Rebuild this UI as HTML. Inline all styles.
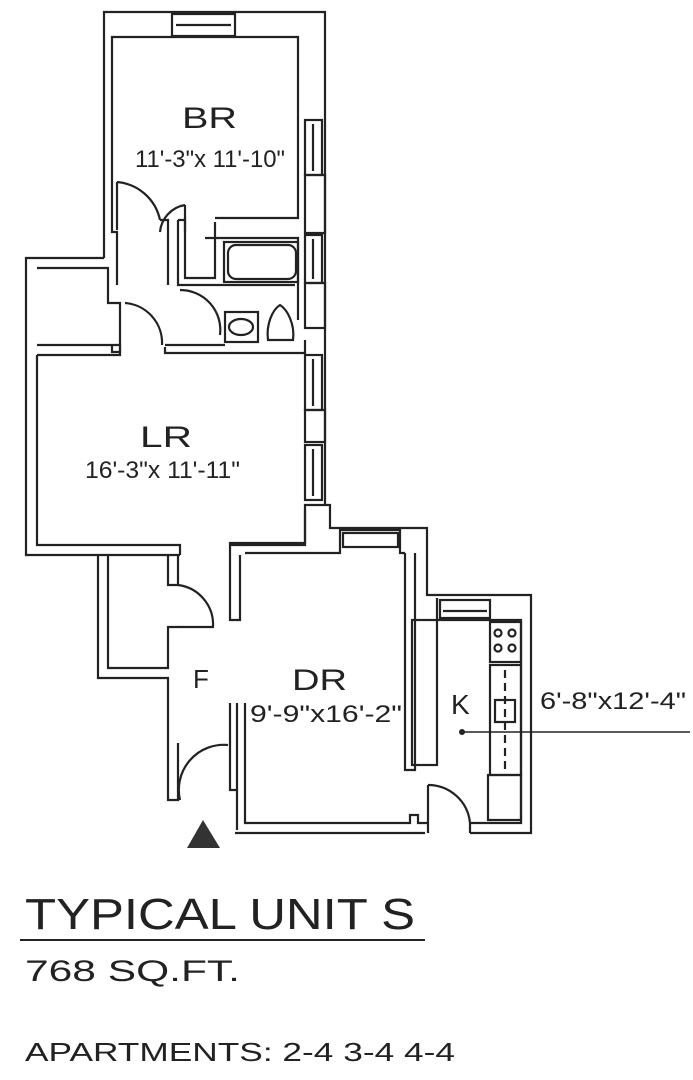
<!DOCTYPE html>
<html><head><meta charset="utf-8"><style>
html,body{margin:0;padding:0;background:#fff;}
svg{display:block}
text{font-family:"Liberation Sans",sans-serif;fill:#222;}
</style></head><body>
<svg width="693" height="1080" viewBox="0 0 693 1080" xmlns="http://www.w3.org/2000/svg">
<g fill="none" stroke="#222" stroke-width="2.2">
<path d="M104,258 V12 H325 V505"/>
<path d="M104,258 H26 V555 H180"/>
<path d="M230,555 V543 H305 V505 H330 V528 H427 V595 H531 V833 H470"/>
<path d="M112,222 V37 H298 V218 H215"/>
<rect x="172" y="14" width="63" height="22"/>
<line x1="176" y1="25" x2="231" y2="25"/>
<rect x="305" y="120" width="17" height="55"/><line x1="313" y1="124" x2="313" y2="171"/>
<rect x="305" y="175" width="20" height="58"/>
<rect x="305" y="235" width="17" height="48"/><line x1="313" y1="239" x2="313" y2="279"/>
<rect x="305" y="283" width="20" height="45"/>
<rect x="305" y="355" width="17" height="55"/><line x1="313" y1="359" x2="313" y2="406"/>
<rect x="305" y="410" width="20" height="32"/>
<rect x="305" y="445" width="17" height="55"/><line x1="313" y1="449" x2="313" y2="496"/>
<path d="M112,222 V232 H117 V285"/>
<path d="M160,220 H168 V285"/>
<path d="M178,220 H185 V245 V278 H215 V222"/>
<path d="M178,220 V285 H295"/>
<path d="M205,238 H298 V320"/>
<rect x="224" y="242" width="74" height="40"/>
<rect x="228" y="245" width="68" height="34" rx="8"/>
<rect x="225" y="312" width="33" height="30"/>
<ellipse cx="241" cy="327" rx="12" ry="8"/>
<path d="M268,340 C266,325 272,310 280,305 C288,310 295,325 293,340 Z"/>
<path d="M117,182 A48,48 0 0 1 160,220"/>
<line x1="117" y1="182" x2="117" y2="230"/>
<path d="M185,205 A30,30 0 0 0 160,232"/>
<path d="M185,205 V232"/>
<path d="M125,303 A40,40 0 0 1 162,345"/>
<path d="M180,290 A40,40 0 0 1 220,335"/>
<path d="M37,268 H108 V303 H120 V345 H37"/>
<path d="M120,345 V352 H112 V345"/>
<path d="M37,355 H120 V347"/>
<path d="M165,347 V353 H305 V340"/>
<path d="M165,345 H225"/>
<path d="M37,355 V545 H180 V555"/>
<path d="M305,510 V545 H230"/>
<path d="M98,555 V678 H168 V800 H178 V743"/>
<path d="M108,555 V668 H168 V627 H178 V628"/>
<path d="M168,555 V585 H178 V555"/>
<path d="M178,585 A40,40 0 0 1 213,627 H178"/>
<path d="M180,800 A45,45 0 0 1 228,745"/>
<path d="M230,555 V620 H240 V555"/>
<path d="M245,553 H340 V530 H400 V553 H405"/>
<rect x="343" y="533" width="55" height="14"/>
<path d="M405,553 V770 H415 V553"/>
<path d="M237,703 V830 M245,703 V823 H410 V815 H418 V823 H428"/>
<path d="M230,703 V790 H237"/>
<path d="M235,833 H425"/>
<path d="M437,598 V620 H521 V823 H470"/>
<rect x="440" y="600" width="50" height="18"/>
<line x1="443" y1="611" x2="487" y2="611"/>
<rect x="412" y="620" width="25" height="145"/>
<rect x="490" y="622" width="31" height="40"/>
<circle cx="498" cy="633" r="3.5"/><circle cx="512" cy="633" r="3.5"/>
<circle cx="498" cy="648" r="3.5"/><circle cx="512" cy="648" r="3.5"/>
<rect x="490" y="665" width="31" height="110"/>
<rect x="495" y="700" width="20" height="22"/>
<line x1="505" y1="670" x2="505" y2="770" stroke-dasharray="8,5"/>
<rect x="488" y="775" width="33" height="45"/>
<path d="M428,785 A42,42 0 0 1 470,823"/>
<path d="M428,785 V833 M470,823 V833"/>
<line x1="462" y1="732" x2="690" y2="732" stroke-width="1.5"/>
<line x1="20" y1="940" x2="425" y2="940" stroke-width="2"/>
</g>
<circle cx="462" cy="732" r="3" fill="#222"/>
<path d="M203,820 L187,848 L220,848 Z" fill="#333"/>
<text x="182" y="128" font-size="30" textLength="55" lengthAdjust="spacingAndGlyphs">BR</text>
<text x="135" y="167" font-size="24" textLength="150" lengthAdjust="spacingAndGlyphs">11'-3"x 11'-10"</text>
<text x="140" y="447" font-size="30" textLength="52" lengthAdjust="spacingAndGlyphs">LR</text>
<text x="85" y="478" font-size="24" textLength="155" lengthAdjust="spacingAndGlyphs">16'-3"x 11'-11"</text>
<text x="193" y="688" font-size="26">F</text>
<text x="292" y="690" font-size="30" textLength="55" lengthAdjust="spacingAndGlyphs">DR</text>
<text x="250" y="722" font-size="24" textLength="152" lengthAdjust="spacingAndGlyphs">9'-9"x16'-2"</text>
<text x="451" y="714" font-size="28">K</text>
<text x="540" y="709" font-size="24" textLength="146" lengthAdjust="spacingAndGlyphs">6'-8"x12'-4"</text>
<text x="25" y="929" font-size="44" textLength="390" lengthAdjust="spacingAndGlyphs">TYPICAL UNIT S</text>
<text x="25" y="981" font-size="30" textLength="215" lengthAdjust="spacingAndGlyphs">768 SQ.FT.</text>
<text x="25" y="1061" font-size="26" textLength="430" lengthAdjust="spacingAndGlyphs">APARTMENTS: 2-4 3-4 4-4</text>
</svg>
</body></html>
